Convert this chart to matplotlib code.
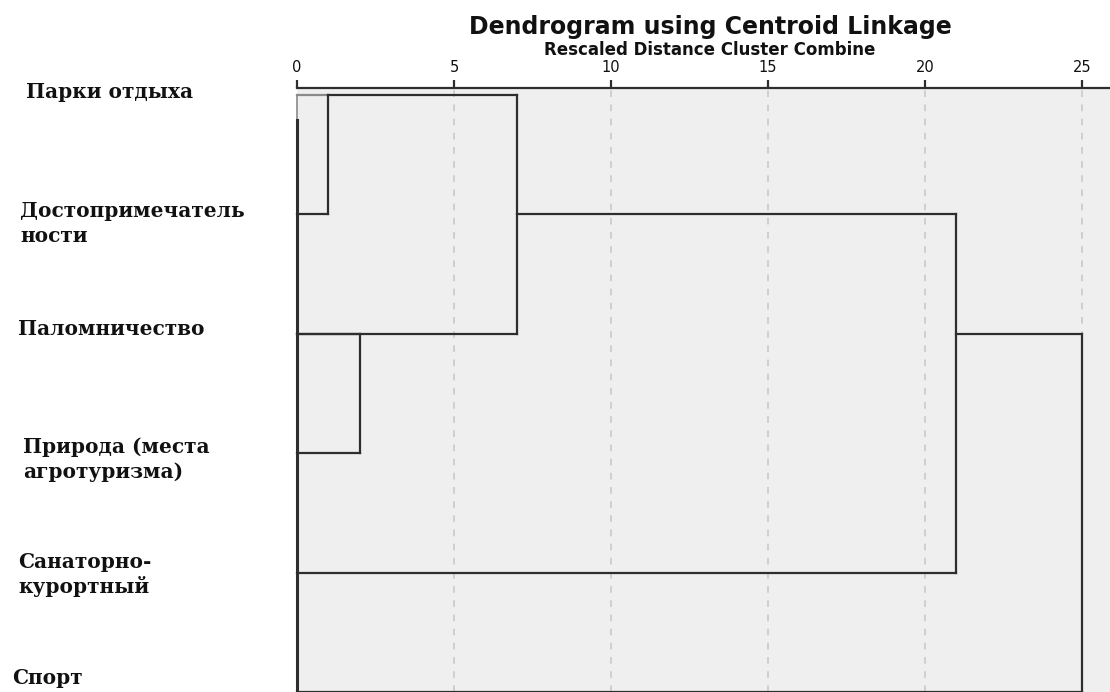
import matplotlib
matplotlib.use("Agg")
import matplotlib.pyplot as plt
import matplotlib.transforms as mtransforms

# ---------------- data ----------------
labels = [
    "Парки отдыха",
    "Достопримечатель\nности",
    "Паломничество",
    "Природа (места\nагротуризма)",
    "Санаторно-\nкурортный",
    "Спорт",
]
# merges: rows are leaf positions, starts/distances on the rescaled axis
merge_row_a = [0, 0, 2, 1, 2]
merge_start_a = [0, 1, 0, 7, 21]
merge_row_b = [1, 2, 3, 4, 5]
merge_start_b = [0, 0, 0, 0, 0]
merge_dist = [1, 7, 2, 21, 25]
ticks = [0, 5, 10, 15, 20, 25]
title = "Dendrogram using Centroid Linkage"
subtitle = "Rescaled Distance Cluster Combine"

# ---------------- figure ----------------
W, H = 1110, 692
fig = plt.figure(figsize=(W / 100, H / 100), dpi=100)
fig.patch.set_facecolor("white")

ax_left_px, ax_top_px = 297, 88
ax = fig.add_axes([ax_left_px / W, 0.0, 1 - ax_left_px / W, 1 - ax_top_px / H])
ax.set_facecolor("#efefef")

px_per_unit = (1082 - 297) / 25.0
ax.set_xlim(0, (W - ax_left_px) / px_per_unit)
row_px = 119.5
ax.set_ylim(5.0, -(95 - 88) / row_px)

line_kw = dict(color="#2e2e2e", lw=1.6, clip_on=False, solid_capstyle="projecting", zorder=3)

# grid
for t in ticks[1:]:
    ax.axvline(t, color="#c9c9c9", lw=1.2, ls=(0, (4, 4.5)), zorder=1)

# left vertical and leaf stubs
ax.plot([0, 0], [0, 0.22], color="#9a9a9a", lw=1.4, clip_on=False, zorder=2)
ax.plot([0, 0], [0.21, 5.0], color="#2e2e2e", lw=2.2, clip_on=False, zorder=3)
ax.plot([0, 1], [0, 0], color="#8a8a8a", lw=1.6, clip_on=False, zorder=2)

for ra, sa, rb, sb, d in zip(merge_row_a, merge_start_a, merge_row_b, merge_start_b, merge_dist):
    if not (ra == 0 and sa == 0):
        ax.plot([sa, d], [ra, ra], **line_kw)
    ax.plot([sb, d], [rb, rb], **line_kw)
    ax.plot([d, d], [ra, rb], **line_kw)

# axis styling
for s in ["left", "right", "bottom"]:
    ax.spines[s].set_visible(False)
ax.spines["top"].set_color("#2e2e2e")
ax.spines["top"].set_linewidth(1.6)
ax.xaxis.tick_top()
ax.set_xticks(ticks)
ax.set_xticklabels([str(t) for t in ticks], fontfamily="DejaVu Sans", fontsize=10.5, color="#111111")
ax.tick_params(axis="x", direction="out", length=6, width=1.6, color="#2e2e2e", pad=3)
ax.set_yticks([])

# titles
cx = 710 / W
fig.text(cx, 1 - 27 / H, title, ha="center", va="center", fontsize=17,
         fontfamily="DejaVu Sans", fontweight="bold", color="#111111")
fig.text(cx, 1 - 50 / H, subtitle, ha="center", va="center", fontsize=12,
         fontweight="bold", fontfamily="DejaVu Sans", color="#111111")

# leaf labels (one text per line)
label_x_px = [26, 20, 18, 23, 18, 12]
label_dy_px = [-3, -3, -5, -6, -11, -14]
line_gap_px = 25
trans = mtransforms.blended_transform_factory(fig.transFigure, ax.transData)
for i, lab in enumerate(labels):
    for k, part in enumerate(lab.split("\n")):
        dy = label_dy_px[i] + k * line_gap_px
        off = mtransforms.ScaledTranslation(0, -dy / 100, fig.dpi_scale_trans)
        fig.text(label_x_px[i] / W, i, part, transform=trans + off, ha="left", va="center",
                 fontsize=14.5, fontweight="bold", fontfamily="DejaVu Serif",
                 color="#111111")

fig.savefig("out.png", dpi=100)
